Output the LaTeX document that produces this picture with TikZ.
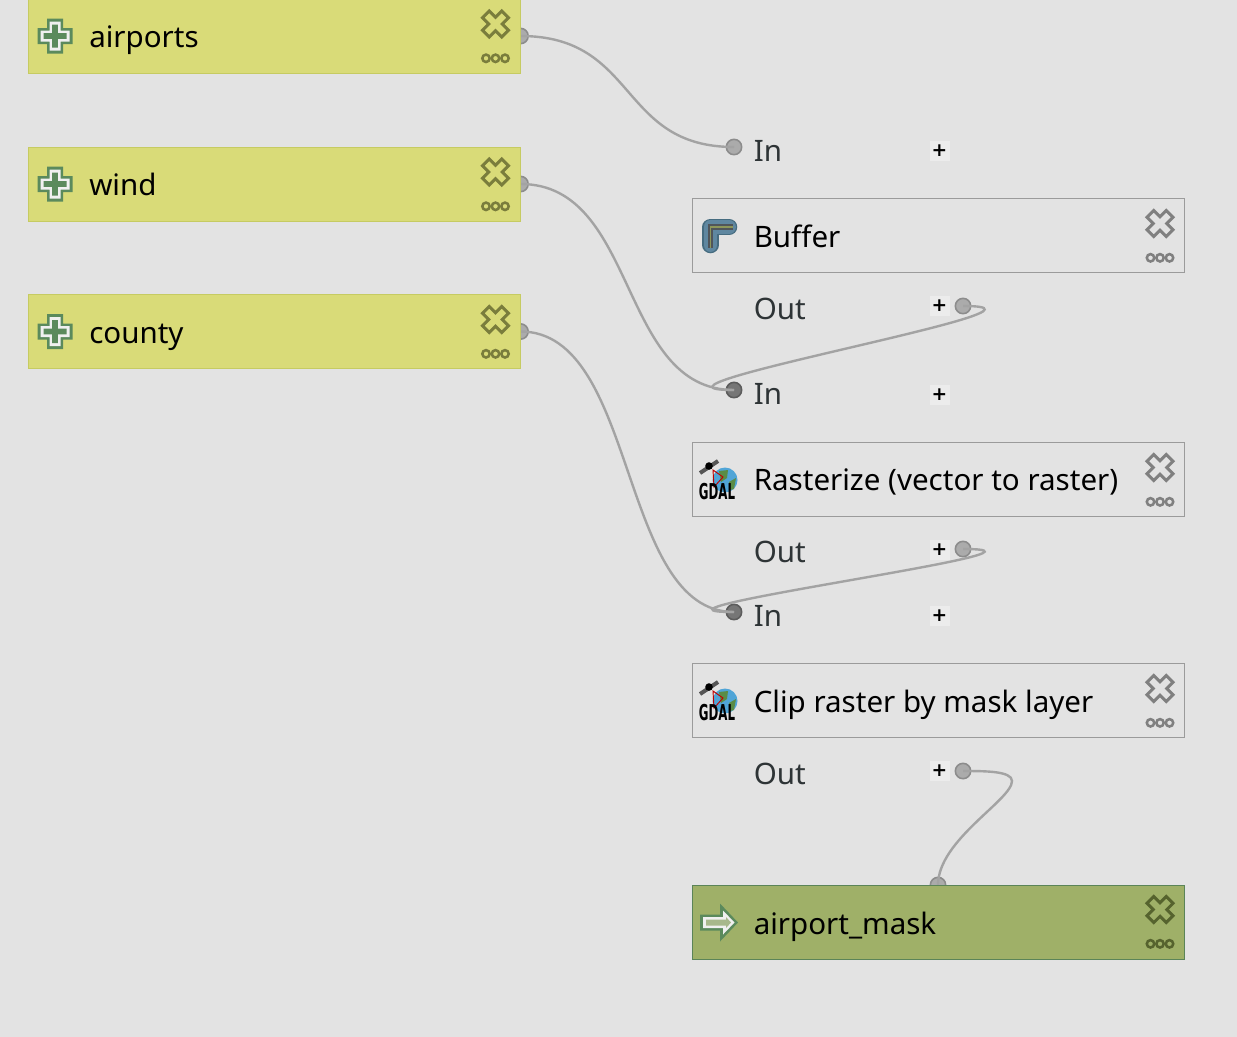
\documentclass[tikz,border=0pt]{standalone}
\usepackage{fontspec}
\setmainfont{Noto Sans}
\newfontfamily\gdalfont{DejaVu Sans}
\definecolor{canvas}{HTML}{E3E3E3}
\definecolor{inyellow}{HTML}{D9DB78}
\definecolor{inyellowline}{HTML}{C6CB62}
\definecolor{outgreen}{HTML}{9FB068}
\definecolor{outgreenline}{HTML}{5B8458}
\definecolor{algline}{HTML}{9B9B9B}
\definecolor{olive}{HTML}{7A7D3C}
\definecolor{greyicon}{HTML}{808080}
\definecolor{darkolive}{HTML}{56632E}
\definecolor{iconGreen}{HTML}{5B8A5C}
\definecolor{paramtext}{HTML}{2E3436}
\definecolor{wire}{HTML}{A3A3A3}
\definecolor{lightfill}{HTML}{ABABAB}
\definecolor{lightedge}{HTML}{8C8C8C}
\definecolor{darkfill}{HTML}{767676}
\definecolor{darkedge}{HTML}{5C5C5C}
\definecolor{buffedge}{HTML}{466C80}
\definecolor{bufffill}{HTML}{5F87A0}
\definecolor{buffcore}{HTML}{50555A}
\definecolor{buffline}{HTML}{8C965A}
\definecolor{globe}{HTML}{50A5D7}
\definecolor{land}{HTML}{5A8C46}
\definecolor{panelgrey}{HTML}{555555}
\definecolor{arrowcore}{HTML}{A8B88C}
\newcommand{\crossshape}[2]{(-#1,-#2) -- (-#2,-#2) -- (-#2,-#1) -- (#2,-#1) -- (#2,-#2) -- (#1,-#2) -- (#1,#2) -- (#2,#2) -- (#2,#1) -- (-#2,#1) -- (-#2,#2) -- (-#1,#2) -- cycle}
\tikzset{
  x=0.75pt,y=-0.75pt,
  boxbase/.style={draw,line width=0.75pt,minimum width=369pt,minimum height=55.5pt,inner sep=0pt},
  inputbox/.style={boxbase,fill=inyellow,draw=inyellowline},
  algbox/.style={boxbase,fill=canvas,draw=algline},
  outputbox/.style={boxbase,fill=outgreen,draw=outgreenline},
  title/.style={anchor=base west,font=\fontsize{22.15pt}{26pt}\selectfont,text=black,inner sep=0pt},
  param/.style={anchor=base west,font=\fontsize{22.15pt}{26pt}\selectfont,text=paramtext,inner sep=0pt},
  lightport/.style={circle,draw=lightedge,fill=lightfill,line width=1.2pt,minimum size=11.5pt,inner sep=0pt},
  darkport/.style={circle,draw=darkedge,fill=darkfill,line width=1.2pt,minimum size=11.5pt,inner sep=0pt},
  plusbtn/.style={fill=black!7.5,draw=none,minimum size=15pt,inner sep=0pt,font=\gdalfont\bfseries\fontsize{14pt}{14pt}\selectfont,text=black},
  wired/.style={draw=wire,line width=1.8pt},
  xicon/.pic={
    \draw[rotate=45,draw=#1,line width=2.2pt,line join=miter,fill=none] \crossshape{13.6}{4.8};
    \foreach \ox in {-9.5,0,9.5}
      \draw[draw=#1,line width=1.9pt] (\ox,34.3) circle[radius=3.7];
  },
  addicon/.pic={
    \fill[iconGreen] \crossshape{17.5}{8};
    \fill[black!6] \crossshape{14.5}{5.5};
    \fill[iconGreen] \crossshape{11.5}{2.8};
  },
  bufficon/.pic={
    \draw[line cap=round,line join=round,draw=buffedge,line width=12.4pt] (9,-9) -- (-9.5,-9) -- (-9.5,9);
    \draw[line cap=round,line join=round,draw=bufffill,line width=10.4pt] (9,-9) -- (-9.5,-9) -- (-9.5,9);
    \draw[line join=miter,draw=buffcore,line width=3.8pt] (13,-9) -- (-9.5,-9) -- (-9.5,12);
    \draw[line join=miter,draw=buffline,line width=1.4pt] (13,-9) -- (-9.5,-9) -- (-9.5,12);
  },
  gdalicon/.pic={
    \fill[globe] (7,-5) circle[radius=12.5];
    \fill[land] (1,-14) -- (10,-15) -- (9,-7) -- (3,-3) -- cycle;
    \fill[land] (11,-3) -- (18,-7) -- (16,4) -- (12,5) -- cycle;
    \draw[red!75!black,line width=.7pt] (-5,-15) -- (-4,2) -- (5,-8) -- cycle;
    \draw[panelgrey,line width=3pt] (-18,-12) -- (0,-24);
    \fill[black] (-9,-19) circle[radius=3.8];
    \node[inner sep=0pt,anchor=base] at (-1,14) {\gdalfont\bfseries\fontsize{16.4pt}{17pt}\selectfont\scalebox{.54}[1]{GDAL}};
  },
  outicon/.pic={
    \fill[iconGreen] (-19,-8) -- (1,-8) -- (1,-19) -- (19,0) -- (1,19) -- (1,8) -- (-19,8) -- cycle;
    \fill[black!6] (-16,-5.5) -- (4,-5.5) -- (4,-12) -- (15.5,0) -- (4,12) -- (4,5.5) -- (-16,5.5) -- cycle;
    \fill[arrowcore] (-13,-3) -- (7,-3) -- (7,-5.5) -- (12,0) -- (7,5.5) -- (7,3) -- (-13,3) -- cycle;
  },
}
\begin{document}
\begin{tikzpicture}
\useasboundingbox (0,0) rectangle (1237,1036);
\fill[canvas] (-5,-5) rectangle (1242,1041);
% ports (the boxes overlap them)
\node[lightport] (pAirports) at (520.5,36) {};
\node[lightport] (pWind) at (520.5,184) {};
\node[lightport] (pCounty) at (520.5,331.5) {};
\node[lightport] (inBuffer) at (734,147) {};
\node[lightport] (outBuffer) at (963,306) {};
\node[darkport] (inRaster) at (734,390) {};
\node[lightport] (outRaster) at (963,549) {};
\node[darkport] (inClip) at (734,612) {};
\node[lightport] (outClip) at (963,771) {};
\node[lightport] (inMask) at (938,885) {};
\coordinate (maskBend) at (1012,781);
% connectors
\draw[wired] (pAirports.center) .. controls +(118,0) and +(-116,0) .. (inBuffer.center);
\draw[wired] (pWind.center) .. controls +(118,0) and +(-116,0) .. (inRaster.center);
\draw[wired] (pCounty.center) .. controls +(118,0) and +(-116,0) .. (inClip.center);
\draw[wired] (outBuffer.center) .. controls +(128,0) and +(-128,0) .. (inRaster.center);
\draw[wired] (outRaster.center) .. controls +(128,0) and +(-128,0) .. (inClip.center);
\draw[wired] (outClip.center) .. controls (985,771) and (1012,771) .. (maskBend) .. controls (1012,800) and (938,840) .. (inMask.center);
% boxes
\node[inputbox] (airports) at (274.5,36) {};
\node[inputbox] (wind) at (274.5,184) {};
\node[inputbox] (county) at (274.5,331.5) {};
\node[algbox] (buffer) at (938.5,235.5) {};
\node[algbox] (raster) at (938.5,479.5) {};
\node[algbox] (clip) at (938.5,700.5) {};
\node[outputbox] (mask) at (938.5,922.5) {};
% titles
\node[title] (tAirports) at (89,47.5) {airports};
\node[title] (tWind) at (89,195.5) {wind};
\node[title] (tCounty) at (89,343.5) {county};
\node[title] (tBuffer) at (753.5,247.5) {Buffer};
\node[title] (tRaster) at (753.5,490.5) {Rasterize (vector to raster)};
\node[title] (tClip) at (753.5,712.5) {Clip raster by mask layer};
\node[title] (tMask) at (753.5,934) {airport\_mask};
% parameter rows
\node[param] (l1) at (753.5,161.5) {In};
\node[param] (l2) at (753.5,319.5) {Out};
\node[param] (l3) at (753.5,404.5) {In};
\node[param] (l4) at (753.5,562.5) {Out};
\node[param] (l5) at (753.5,626.5) {In};
\node[param] (l6) at (753.5,784.5) {Out};
\node[plusbtn] (b1) at (939.5,151) {+};
\node[plusbtn] (b2) at (939.5,306) {+};
\node[plusbtn] (b3) at (939.5,394.5) {+};
\node[plusbtn] (b4) at (939.5,549.5) {+};
\node[plusbtn] (b5) at (939.5,616) {+};
\node[plusbtn] (b6) at (939.5,771) {+};
% icons
\pic at (55,36) {addicon};
\pic at (55,184) {addicon};
\pic at (55,331.5) {addicon};
\pic at (495.5,24) {xicon=olive};
\pic at (495.5,172) {xicon=olive};
\pic at (495.5,319.5) {xicon=olive};
\pic at (1160,223.5) {xicon=greyicon};
\pic at (1160,467.5) {xicon=greyicon};
\pic at (1160,688.5) {xicon=greyicon};
\pic at (1160,909.5) {xicon=darkolive};
\pic at (720,236) {bufficon};
\pic at (718,485) {gdalicon};
\pic at (718,706) {gdalicon};
\pic at (719,922.5) {outicon};
\end{tikzpicture}
\end{document}
